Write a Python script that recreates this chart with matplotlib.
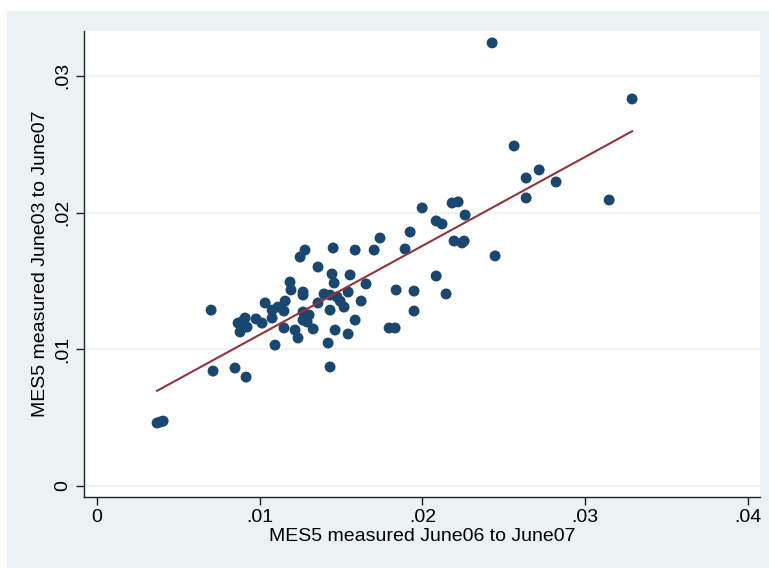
import numpy as np
import matplotlib
matplotlib.use("Agg")
import matplotlib.pyplot as plt
from matplotlib.patches import Rectangle

# MES5 measured June06 to June07 (x) vs June03 to June07 (y), in thousandths
x_vals = [3.69, 3.87, 4.06, 7.13, 8.48, 9.16, 7.01, 8.67, 8.97, 9.10,
          8.79, 9.22, 9.77, 10.14, 10.33, 10.76, 11.12, 10.76, 10.94, 11.56,
          11.49, 11.49, 12.17, 11.86, 11.92, 12.48, 12.78, 12.66, 12.66, 13.58,
          12.66, 13.03, 12.66, 12.91, 12.35, 13.28, 13.58, 13.95, 14.32, 14.44,
          14.57, 14.51, 14.75, 14.94, 15.18, 14.32, 14.63, 14.20, 14.32, 15.43,
          15.55, 15.86, 15.86, 15.43, 16.23, 16.53, 17.03, 17.39, 17.95, 18.32,
          18.38, 18.93, 19.24, 19.48, 19.48, 19.98, 20.84, 21.20, 20.84, 21.45,
          21.82, 22.19, 22.62, 21.94, 22.43, 22.56, 24.46, 24.28, 25.63, 26.37,
          26.37, 27.17, 28.21, 31.47, 32.88]
y_vals = [4.61, 4.68, 4.75, 8.41, 8.63, 7.97, 12.87, 11.92, 12.07, 12.29,
          11.27, 11.63, 12.22, 11.92, 13.39, 12.87, 13.09, 12.29, 10.31, 13.53,
          12.80, 11.56, 11.41, 14.92, 14.34, 16.75, 17.26, 14.19, 13.97, 16.02,
          12.73, 12.51, 12.14, 12.00, 10.83, 11.49, 13.39, 14.05, 13.97, 15.51,
          14.85, 17.41, 13.83, 13.53, 13.09, 12.87, 11.41, 10.46, 8.71, 14.19,
          15.44, 17.26, 12.14, 11.12, 13.53, 14.78, 17.26, 18.14, 11.56, 11.56,
          14.34, 17.34, 18.58, 14.26, 12.80, 20.34, 19.39, 19.17, 15.36, 14.05,
          20.70, 20.78, 19.82, 17.92, 17.78, 17.92, 16.83, 32.41, 24.87, 22.53,
          21.07, 23.12, 22.24, 20.92, 28.31]

x_ticks = [0, 0.01, 0.02, 0.03, 0.04]
x_tick_labels = ["0", ".01", ".02", ".03", ".04"]
y_ticks = [0, 0.01, 0.02, 0.03]
y_tick_labels = ["0", ".01", ".02", ".03"]

x = np.array(x_vals) / 1000
y = np.array(y_vals) / 1000

plt.rcParams['font.family'] = ['Liberation Sans', 'DejaVu Sans']

fig = plt.figure(figsize=(7.69, 5.68), dpi=100)
fig.patch.set_facecolor('white')
fig.patches.append(Rectangle((7 / 769, 0), 1 - 7 / 769, 1 - 11 / 568,
                             transform=fig.transFigure, facecolor='#eaf2f3',
                             edgecolor='none', zorder=-10))

ax = fig.add_axes([84 / 769, 71 / 568, 676 / 769, 466 / 568])
ax.set_facecolor('white')

# horizontal grid only
for t in y_ticks:
    ax.axhline(t, color='#eaf2f3', lw=1.2, zorder=1)

ax.scatter(x, y, s=62, color='#1a476f', edgecolors='none', zorder=3)

# linear fit
b, a = np.polyfit(x, y, 1)
xf = np.array([x.min(), x.max()])
ax.plot(xf, a + b * xf, color='#90353b', lw=1.5, zorder=4)

ax.set_xlim(-0.0008, 0.04074)
ax.set_ylim(-0.0008, 0.03328)
ax.set_xticks(x_ticks)
ax.set_xticklabels(x_tick_labels)
ax.set_yticks(y_ticks)
ax.set_yticklabels(y_tick_labels, rotation=90, va='center')
ax.tick_params(axis='both', direction='out', length=6, width=1, color='#222',
               labelsize=14, pad=3)

for s in ['top', 'right']:
    ax.spines[s].set_visible(False)
for s in ['left', 'bottom']:
    ax.spines[s].set_color('#222')
    ax.spines[s].set_linewidth(1)

ax.set_xlabel("MES5 measured June06 to June07", fontsize=14, labelpad=1)
ax.set_ylabel("MES5 measured June03 to June07", fontsize=14, labelpad=4)

fig.savefig("out.png", dpi=100)
